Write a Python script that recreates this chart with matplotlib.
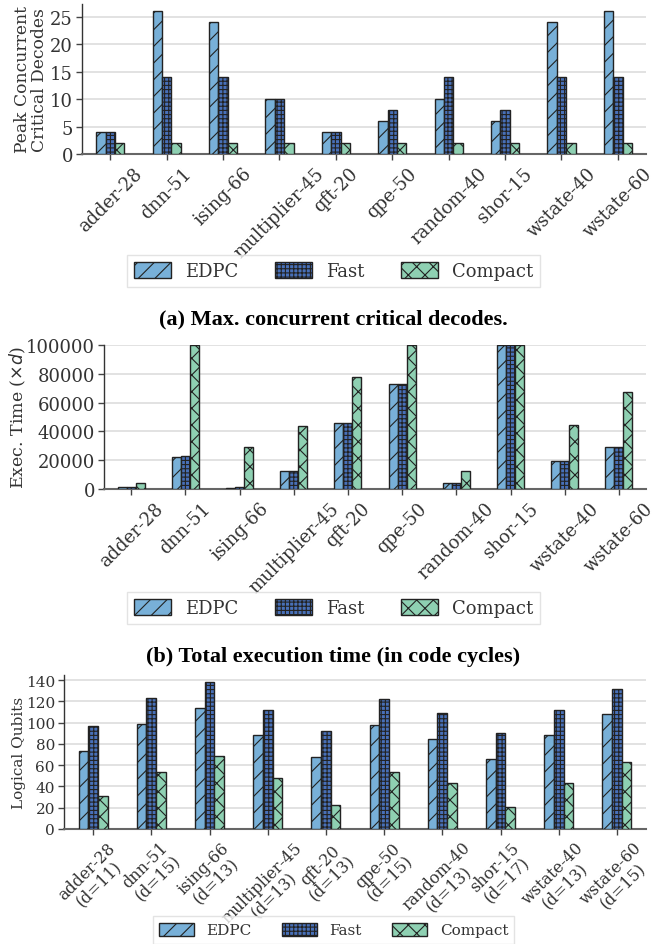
import numpy as np
import matplotlib
matplotlib.use("Agg")
import matplotlib.pyplot as plt

# benchmark circuits and per-scheme results
benchmarks = ["adder-28", "dnn-51", "ising-66", "multiplier-45", "qft-20",
              "qpe-50", "random-40", "shor-15", "wstate-40", "wstate-60"]
distances = [11, 15, 13, 13, 13, 15, 13, 17, 13, 15]
schemes = ["EDPC", "Fast", "Compact"]

peak_edpc = [4, 26, 24, 10, 4, 6, 10, 6, 24, 26]
peak_fast = [4, 14, 14, 10, 4, 8, 14, 8, 14, 14]
peak_compact = [2, 2, 2, 2, 2, 2, 2, 2, 2, 2]

time_edpc = [1500, 22500, 700, 12800, 46000, 73000, 4300, 100000, 19500, 29000]
time_fast = [1500, 22800, 1200, 12800, 46000, 73000, 4300, 100000, 19500, 29000]
time_compact = [4000, 100000, 29000, 43500, 78000, 100000, 12500, 100000, 44500, 67500]

qubits_edpc = [73, 99, 114, 88, 68, 98, 85, 66, 88, 108]
qubits_fast = [97, 123, 138, 112, 92, 122, 109, 90, 112, 132]
qubits_compact = [31, 54, 69, 48, 23, 54, 43, 21, 43, 63]

colors = ["#78b0d8", "#4870b8", "#8ed0b2"]
hatches = ["//", "++++", "xx"]

plt.rcParams["font.family"] = "DejaVu Serif"
plt.rcParams["hatch.linewidth"] = 0.8
plt.rcParams["text.color"] = "#333333"
plt.rcParams["axes.labelcolor"] = "#333333"
plt.rcParams["xtick.color"] = "#333333"
plt.rcParams["ytick.color"] = "#333333"

fig = plt.figure(figsize=(6.67, 9.45), dpi=100)


def grouped_bars(ax, series, labels, fs, lw=1.0):
    x = np.arange(len(labels))
    w = 0.5 / 3
    for i, vals in enumerate(series):
        ax.bar(x + (i - 1) * w, vals, w, color=colors[i], hatch=hatches[i],
               edgecolor="#222222", linewidth=lw, label=schemes[i], zorder=3)
    ax.set_xlim(-0.5, len(labels) - 0.5)
    ax.set_xticks(x)
    ax.set_xticklabels(labels, rotation=45, fontsize=fs)
    ax.tick_params(axis="y", labelsize=fs, length=4, width=1, color="#444444",
                   pad=2.5)
    ax.tick_params(axis="x", length=4, width=1, color="#444444", pad=3)
    ax.grid(axis="y", color="#dddddd", linewidth=1.2, zorder=0)
    ax.set_axisbelow(True)
    for s in ["top", "right"]:
        ax.spines[s].set_visible(False)
    ax.spines["left"].set_color("#333333")
    ax.spines["bottom"].set_color("#666666")
    ax.spines["left"].set_linewidth(1.0)
    ax.spines["bottom"].set_linewidth(1.5)


def add_legend(ax, y, fs, hl=2.05):
    ax.legend(ncol=3, loc="center", bbox_to_anchor=(0.5, 1 - y / 945),
              bbox_transform=fig.transFigure, fontsize=fs, frameon=True,
              fancybox=False, edgecolor="#dddddd", handlelength=hl,
              handleheight=0.95, columnspacing=2.0, borderpad=0.4,
              handletextpad=0.8)


# (a) peak concurrent critical decodes
ax1 = fig.add_axes([82 / 667, 1 - 155 / 945, 564 / 667, 150 / 945])
grouped_bars(ax1, [peak_edpc, peak_fast, peak_compact], benchmarks, 13)
ax1.set_yticks([0, 5, 10, 15, 20, 25])
ax1.set_ylabel("Peak Concurrent\nCritical Decodes", fontsize=12.3,
               linespacing=1.0)
ax1.yaxis.set_label_coords(-0.060, 0.5)
add_legend(ax1, 272, 13)
fig.text(0.5, 1 - 319 / 945, "(a) Max. concurrent critical decodes.",
         ha="center", va="center", fontsize=16, fontweight="bold",
         family="Liberation Serif", color="black")

# (b) total execution time
ax2 = fig.add_axes([104 / 667, 1 - 490 / 945, 542 / 667, 144 / 945])
grouped_bars(ax2, [time_edpc, time_fast, time_compact], benchmarks, 13)
ax2.set_ylim(0, 100000)
ax2.set_yticks([0, 20000, 40000, 60000, 80000, 100000])
ax2.set_yticklabels(["0", "20000", "40000", "60000", "80000", "100000"])
ax2.set_ylabel(r"Exec. Time ($\times d$)", fontsize=12.5)
ax2.yaxis.set_label_coords(-0.140, 0.5)
add_legend(ax2, 609, 13)
fig.text(0.5, 1 - 657 / 945, "(b) Total execution time (in code cycles)",
         ha="center", va="center", fontsize=16, fontweight="bold",
         family="Liberation Serif", color="black")

# (c) logical qubit footprint
ax3 = fig.add_axes([64 / 667, 1 - 830 / 945, 582 / 667, 154 / 945])
qlabels = [f"{b}\n(d={d})" for b, d in zip(benchmarks, distances)]
grouped_bars(ax3, [qubits_edpc, qubits_fast, qubits_compact], qlabels, 11.5)
for t in ax3.get_xticklabels():
    t.set_multialignment("center")
    t.set_linespacing(1.0)
ax3.set_yticks(range(0, 141, 20))
ax3.tick_params(axis="y", labelsize=11)
ax3.set_ylabel("Logical Qubits", fontsize=11)
ax3.yaxis.set_label_coords(-0.065, 0.5)
add_legend(ax3, 931, 11, hl=2.3)

fig.savefig("out.png", dpi=100)
